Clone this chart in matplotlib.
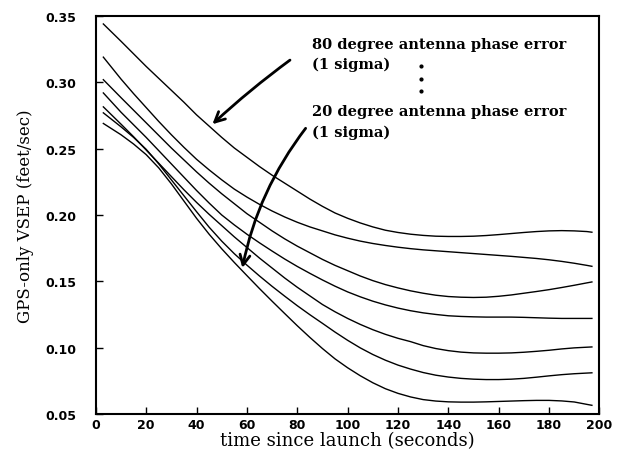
import numpy as np
import matplotlib.pyplot as plt

# time since launch (s)
t = [3] + list(range(10, 200, 5)) + [197]

# VSEP curves, 80 deg (top) down to 20 deg (bottom)
c80 = [0.344, 0.331, 0.3215, 0.312, 0.303, 0.294, 0.285, 0.2755, 0.267, 0.2585,
       0.2505, 0.2435, 0.2365, 0.230, 0.224, 0.218, 0.212, 0.2065, 0.2015, 0.1975,
       0.194, 0.191, 0.1885, 0.1868, 0.1855, 0.1846, 0.184, 0.1838, 0.1838, 0.184,
       0.1845, 0.1852, 0.186, 0.1868, 0.1875, 0.188, 0.1882, 0.188, 0.1875, 0.187]
c70 = [0.319, 0.3025, 0.2915, 0.281, 0.2705, 0.2605, 0.251, 0.242, 0.234, 0.2265,
       0.2195, 0.2135, 0.208, 0.203, 0.1985, 0.1945, 0.191, 0.188, 0.185, 0.1825,
       0.1803, 0.1785, 0.177, 0.1757, 0.1746, 0.1737, 0.173, 0.1723, 0.1716, 0.1709,
       0.1702, 0.1695, 0.1688, 0.168, 0.1672, 0.1662, 0.165, 0.1636, 0.162, 0.1613]
c60 = [0.302, 0.2885, 0.279, 0.2695, 0.260, 0.2505, 0.2415, 0.2325, 0.224, 0.216,
       0.2085, 0.201, 0.1945, 0.188, 0.182, 0.1765, 0.1715, 0.1665, 0.162, 0.158,
       0.154, 0.1505, 0.1475, 0.145, 0.1428, 0.141, 0.1395, 0.1385, 0.138, 0.1378,
       0.138, 0.1387, 0.1397, 0.141, 0.1423, 0.1437, 0.1453, 0.147, 0.1488, 0.1495]
c50 = [0.292, 0.2775, 0.268, 0.2585, 0.2485, 0.2385, 0.2285, 0.2185, 0.209, 0.200,
       0.1925, 0.1855, 0.179, 0.1728, 0.1668, 0.1612, 0.156, 0.151, 0.1463, 0.142,
       0.1383, 0.135, 0.1322, 0.1298, 0.1278, 0.1262, 0.125, 0.124, 0.1235, 0.1232,
       0.123, 0.123, 0.123, 0.1228, 0.1225, 0.1222, 0.122, 0.122, 0.122, 0.122]
c40 = [0.2815, 0.2685, 0.259, 0.249, 0.239, 0.229, 0.219, 0.2095, 0.2005, 0.192,
       0.1835, 0.1755, 0.1675, 0.160, 0.1525, 0.1455, 0.139, 0.1325, 0.127, 0.122,
       0.1175, 0.1135, 0.110, 0.107, 0.1045, 0.1015, 0.0993, 0.0977, 0.0966, 0.096,
       0.0958, 0.0958, 0.096, 0.0965, 0.0972, 0.098, 0.099, 0.0998, 0.1003, 0.1005]
c30 = [0.277, 0.2665, 0.2585, 0.2495, 0.2385, 0.2265, 0.2145, 0.2025, 0.1908, 0.1803,
       0.1708, 0.1622, 0.154, 0.1462, 0.1388, 0.1316, 0.1248, 0.1183, 0.1117, 0.1055,
       0.0998, 0.0948, 0.0905, 0.0868, 0.0838, 0.0812, 0.0792, 0.0778, 0.0768, 0.0762,
       0.0759, 0.0759, 0.0762, 0.0768, 0.0777, 0.0787, 0.0796, 0.0803, 0.0808, 0.081]
c20 = [0.269, 0.2605, 0.2535, 0.2455, 0.2355, 0.2235, 0.2105, 0.1975, 0.1855, 0.1745,
       0.1642, 0.1543, 0.1445, 0.135, 0.1257, 0.1165, 0.1077, 0.0993, 0.0915, 0.0848,
       0.0788, 0.0735, 0.069, 0.0655, 0.0628, 0.0608, 0.0597, 0.0591, 0.0589, 0.0589,
       0.0591, 0.0594, 0.0597, 0.060, 0.0602, 0.0602, 0.0598, 0.059, 0.0572, 0.0565]
curves = [c80, c70, c60, c50, c40, c30, c20]

xt = list(range(0, 201, 20))
yt = [0.05, 0.10, 0.15, 0.20, 0.25, 0.30, 0.35]

fig = plt.figure(figsize=(6.18, 4.6), dpi=100)
ax = fig.add_axes([0.155, 0.098, 0.815, 0.865])

for c in curves:
    ax.plot(t, c, color='black', linewidth=1.0)

ax.set_xlim(0, 200)
ax.set_ylim(0.05, 0.35)
ax.set_xticks(xt)
ax.set_yticks(yt)
ax.set_xticklabels([str(v) for v in xt], fontsize=9, fontweight='bold', family='DejaVu Sans')
ax.set_yticklabels(['%.2f' % v for v in yt], fontsize=9, fontweight='bold', family='DejaVu Sans')
ax.tick_params(axis='x', direction='in', length=5, width=1, pad=3)
ax.tick_params(axis='y', direction='in', length=5, width=1, pad=14)
for s in ax.spines.values():
    s.set_linewidth(1.5)

ax.set_xlabel('time since launch (seconds)', fontsize=13, family='DejaVu Serif', labelpad=0)
ax.set_ylabel('GPS-only VSEP (feet/sec)', fontsize=12, family='DejaVu Serif', labelpad=8)

# annotations
fs = 10.5
ax.text(86, 0.329, '80 degree antenna phase error', fontsize=fs, fontweight='bold', family='DejaVu Serif', va='center')
ax.text(86, 0.314, '(1 sigma)', fontsize=fs, fontweight='bold', family='DejaVu Serif', va='center')
for yy in [0.312, 0.3025, 0.2935]:
    ax.plot(129, yy, 'k.', markersize=4)
ax.text(86, 0.2785, '20 degree antenna phase error', fontsize=fs, fontweight='bold', family='DejaVu Serif', va='center')
ax.text(86, 0.263, '(1 sigma)', fontsize=fs, fontweight='bold', family='DejaVu Serif', va='center')

ax.annotate('', xy=(45.5, 0.267), xytext=(78, 0.318),
            arrowprops=dict(arrowstyle='->', lw=2, color='black', mutation_scale=18,
                            connectionstyle='arc3,rad=0.03'))
ax.annotate('', xy=(58, 0.158), xytext=(84, 0.267),
            arrowprops=dict(arrowstyle='->', lw=2, color='black', mutation_scale=18,
                            connectionstyle='arc3,rad=0.12'))

plt.savefig('out.png', dpi=100)
